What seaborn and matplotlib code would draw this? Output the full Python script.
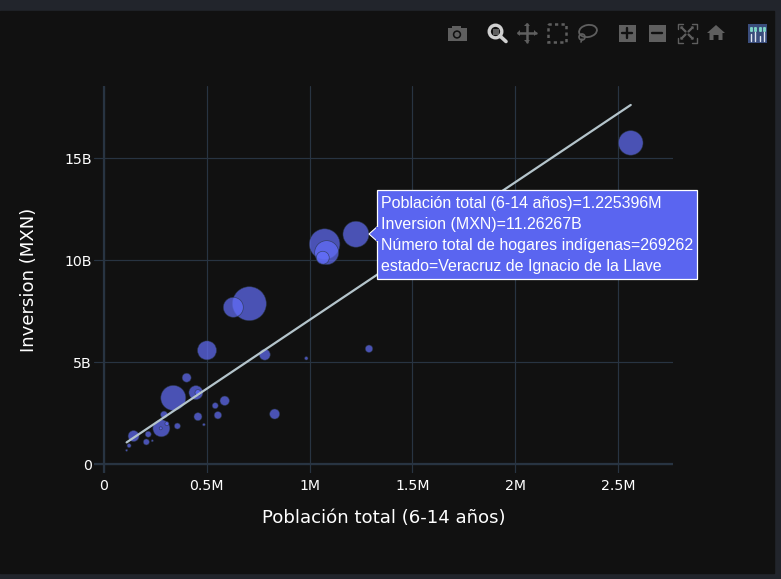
import matplotlib
matplotlib.use("Agg")
import matplotlib.pyplot as plt
from matplotlib.patches import Rectangle, Polygon, Circle, Ellipse
import numpy as np
import pandas as pd
import seaborn as sns

poblacion_m = [.707, .629, .501, .782, .984, 1.289, .402, .447, .457, .337, .587, .541, .554, .457, .292, .830,
               .486, .357, .279, .276, .306, .144, .215, .206, .235, .122, .110, 2.562, 1.2254, 1.073, 1.083, 1.064]
inversion_b = [7.86, 7.68, 5.57, 5.36, 5.18, 5.65, 4.23, 3.50, 3.50, 3.24, 3.10, 2.86, 2.39, 2.32, 2.42, 2.45,
               1.93, 1.86, 1.75, 1.75, 1.98, 1.37, 1.46, 1.08, 1.14, .90, .67, 15.74, 11.2627, 10.78, 10.36, 10.11]
hogares = [460000, 159000, 144000, 48000, 4600, 21800, 32000, 78000, 14000, 249000, 35000, 14300, 21800, 25500,
           19500, 40000, 2700, 14300, 115000, 3600, 6400, 48000, 14300, 14300, 1600, 6400, 1600, 241000, 269262,
           373000, 229000, 67000]
trend_x = [.11, 2.562]
trend_y = [1.06, 17.6]
x_ticks = [0, .5, 1, 1.5, 2, 2.5]
x_labels = ["0", "0.5M", "1M", "1.5M", "2M", "2.5M"]
y_ticks = [0, 5, 10, 15]
y_labels = ["0", "5B", "10B", "15B"]
tooltip_lines = ["Población total (6-14 años)=1.225396M", "Inversion (MXN)=11.26267B",
                 "Número total de hogares indígenas=269262", "estado=Veracruz de Ignacio de la Llave"]

W, H = 781, 579
BG, BAND, GRID, BLUE = "#111111", "#22252c", "#283442", "#636efa"
TIP = "#5a65f0"
ICON = "#5f5f5f"

sns.set_theme(style="dark", rc={"font.family": ["DejaVu Sans"], "axes.facecolor": BG, "figure.facecolor": BAND,
                                "text.color": "white", "axes.labelcolor": "white",
                                "xtick.color": "white", "ytick.color": "white"})
fig = plt.figure(figsize=(W / 100, H / 100), dpi=100)
fig.add_artist(Rectangle((0, 6 / H), 774 / W, 562 / H, transform=fig.transFigure, color=BG, zorder=-5))

ax = fig.add_axes([94 / W, 1 - 473 / H, 579 / W, 387 / H])
df = pd.DataFrame({"x": poblacion_m, "y": inversion_b, "h": hogares})
max_s = (2 * 17 * 0.72) ** 2
sns.scatterplot(data=df, x="x", y="y", size="h", size_norm=(0, 460000), sizes=(0, max_s), legend=False,
                color=BLUE, alpha=0.7, edgecolor=GRID, linewidth=0.5, ax=ax, zorder=3)
sns.lineplot(x=trend_x, y=trend_y, color="#b4c4cb", linewidth=1.6, ax=ax, zorder=4)

ax.set_xlim(-10 / 205.6, 569 / 205.6)
ax.set_ylim(-9 / 20.4, 378 / 20.4)
ax.set_xticks(x_ticks, x_labels, fontsize=10.2)
ax.set_yticks(y_ticks, y_labels, fontsize=10.2)
ax.tick_params(axis="y", length=0, pad=1.6)
ax.tick_params(axis="x", length=0, pad=4.6)
ax.grid(True, color=GRID, linewidth=0.85)
ax.axhline(0, color=GRID, linewidth=1.6, zorder=1.5)
ax.axvline(0, color=GRID, linewidth=1.6, zorder=1.5)
ax.set_axisbelow(True)
for s in ax.spines.values():
    s.set_visible(False)
ax.set_xlabel("Población total (6-14 años)", fontsize=13.1)
ax.set_ylabel("Inversion (MXN)", fontsize=13.1)
ax.xaxis.set_label_coords((383.5 - 94) / 579, 1 - (518 - 86) / 387)
ax.xaxis.label.set_va("center")
ax.yaxis.set_label_coords((29 - 94) / 579, 1 - (279.5 - 86) / 387)
ax.yaxis.label.set_va("center")

# overlay in pixel coordinates: tooltip and mode bar
ov = fig.add_axes([0, 0, 1, 1], facecolor="none", zorder=10)
ov.set_xlim(0, W)
ov.set_ylim(H, 0)
ov.axis("off")
ov.add_patch(Polygon([(378, 226), (369, 234), (378, 242)], closed=True, facecolor=TIP, edgecolor="white", lw=0.8))
ov.add_patch(Rectangle((377, 190), 320, 89, facecolor=TIP, edgecolor="white", lw=0.9))
ov.add_patch(Rectangle((376, 227), 3, 14, facecolor=TIP, edgecolor="none"))
for yy, line in zip([203.5, 224.5, 245.5, 266.5], tooltip_lines):
    ov.text(381, yy, line, color="white", fontsize=11.5, family="Liberation Sans", va="center", ha="left")

# camera
ov.add_patch(Rectangle((447.5, 28), 19, 13, facecolor=ICON, edgecolor="none"))
ov.add_patch(Rectangle((452, 26), 9, 3, facecolor=ICON, edgecolor="none"))
ov.add_patch(Circle((457, 34.5), 4.2, facecolor=BG, edgecolor="none"))
ov.add_patch(Circle((457, 34.5), 2.6, facecolor=ICON, edgecolor="none"))
# zoom (active)
ZC = "#d0d0d0"
ov.add_patch(Circle((495.5, 31.5), 6.3, facecolor="none", edgecolor=ZC, lw=2.4))
ov.add_patch(Rectangle((492.5, 28.5), 6, 6, facecolor=ICON, edgecolor="none"))
ov.plot([500, 506], [36, 41.5], color=ZC, lw=2.6)
# pan
ov.plot([518, 536], [33, 33], color=ICON, lw=1.8)
ov.plot([527, 527], [24, 42], color=ICON, lw=1.8)
for pts in ([(517, 33), (520, 30), (520, 36)], [(537, 33), (534, 30), (534, 36)],
            [(527, 23), (524, 26), (530, 26)], [(527, 43), (524, 40), (530, 40)]):
    ov.add_patch(Polygon(pts, closed=True, facecolor=ICON, edgecolor="none"))
# box select
ov.add_patch(Rectangle((548, 24), 18, 18, facecolor="none", edgecolor=ICON, lw=1.8, ls=(0, (1.3, 1.3))))
# lasso
ov.add_patch(Ellipse((588, 31), 18, 12, angle=-10, facecolor="none", edgecolor=ICON, lw=1.3))
ov.add_patch(Circle((582, 37), 3, facecolor="none", edgecolor=ICON, lw=1.2))
ov.plot([582, 581], [39, 42], color=ICON, lw=1.2)
# zoom in / out
ov.add_patch(Rectangle((618.5, 24.5), 17, 17, facecolor=ICON, edgecolor="none"))
ov.plot([622, 632], [33, 33], color=BG, lw=1.7)
ov.plot([627, 627], [28, 38], color=BG, lw=1.7)
ov.add_patch(Rectangle((648.5, 24.5), 17, 17, facecolor=ICON, edgecolor="none"))
ov.plot([652, 662], [33, 33], color=BG, lw=1.7)
# autoscale
for cx, cy, dx, dy in [(677.5, 23.5, 1, 1), (696.5, 23.5, -1, 1), (677.5, 42.5, 1, -1), (696.5, 42.5, -1, -1)]:
    ov.plot([cx + 5 * dx, cx, cx], [cy, cy, cy + 5 * dy], color=ICON, lw=1.0)
    ov.plot([cx + 4 * dx, cx + 8 * dx], [cy + 4 * dy, cy + 8 * dy], color=ICON, lw=1.6)
    ov.add_patch(Polygon([(cx + 3 * dx, cy + 3 * dy), (cx + 6 * dx, cy + 3 * dy), (cx + 3 * dx, cy + 6 * dy)],
                         closed=True, facecolor=ICON, edgecolor="none"))
# home
ov.add_patch(Polygon([(716, 25), (725, 33), (722.5, 33), (722.5, 40), (718.5, 40), (718.5, 35), (713.5, 35),
                      (713.5, 40), (709.5, 40), (709.5, 33), (707, 33)], closed=True, facecolor=ICON, edgecolor="none"))
# logo
ov.add_patch(Rectangle((747.5, 23.5), 19.5, 19.5, facecolor="#3a4d7c", edgecolor="none"))
for i, top in enumerate([34, 32, 36, 32]):
    xx = 750.5 + i * 4.5
    ov.plot([xx, xx], [top, 40.5], color="#dfe6f0", lw=1.0)
    ov.plot([xx], [27.5], "s", color="#7fd6c8", ms=1.1)
    ov.plot([xx], [30], "s", color="#7fd6c8", ms=1.1)

fig.savefig("out.png", dpi=100, facecolor=BAND)
